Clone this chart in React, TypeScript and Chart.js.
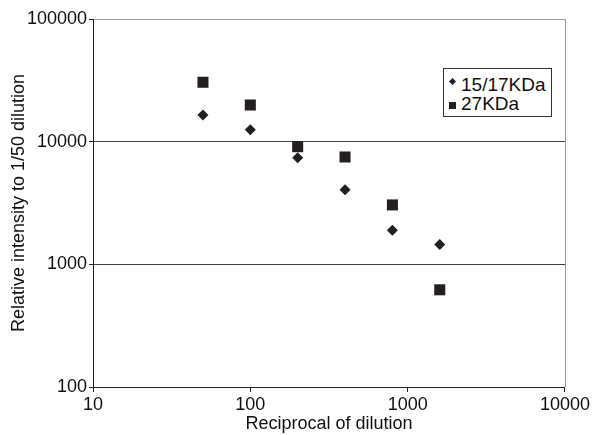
import React, { useEffect, useRef } from "react";
import { Chart, registerables } from "chart.js";

Chart.register(...registerables);

const dilutions = [50, 100, 200, 400, 800, 1600];
const kda15_17 = [16500, 12500, 7400, 4050, 1900, 1450];
const kda27 = [30500, 19900, 9100, 7500, 3050, 620];
const xTicks = [10, 100, 1000, 10000];
const yTicks = [100, 1000, 10000, 100000];
const seriesNames = ["15/17KDa", "27KDa"];

const FONT = '"Liberation Sans", Arial, Helvetica, sans-serif';
const INK = "#231f20";

const borderPlugin = {
  id: "rightBorder",
  afterDraw(chart: any) {
    const { ctx, chartArea } = chart;
    ctx.save();
    ctx.strokeStyle = "#999";
    ctx.lineWidth = 1;
    ctx.beginPath();
    ctx.moveTo(Math.round(chartArea.right) + 0.5, chartArea.top);
    ctx.lineTo(Math.round(chartArea.right) + 0.5, chartArea.bottom);
    ctx.stroke();
    ctx.restore();
  },
};

export default function App() {
  const ref = useRef<HTMLCanvasElement | null>(null);

  useEffect(() => {
    if (!ref.current) return;
    const chart = new Chart(ref.current, {
      type: "scatter",
      data: {
        datasets: [
          {
            label: seriesNames[0],
            data: dilutions.map((x, i) => ({ x, y: kda15_17[i] })),
            pointStyle: "rectRot",
            pointRadius: 5.5,
            backgroundColor: INK,
            borderColor: INK,
            borderWidth: 0,
          },
          {
            label: seriesNames[1],
            data: dilutions.map((x, i) => ({ x, y: kda27[i] })),
            pointStyle: "rect",
            pointRadius: 7.8,
            backgroundColor: INK,
            borderColor: INK,
            borderWidth: 0,
          },
        ],
      },
      options: {
        animation: false,
        responsive: true,
        maintainAspectRatio: false,
        layout: { padding: { top: 19, right: 27, left: 0, bottom: 0 } },
        plugins: {
          legend: { display: false },
          tooltip: { enabled: false },
        },
        scales: {
          x: {
            type: "logarithmic",
            min: 10,
            max: 10000,
            afterBuildTicks: (axis: any) => {
              axis.ticks = xTicks.map((v) => ({ value: v }));
            },
            afterFit: (axis: any) => {
              axis.height = 48;
            },
            ticks: {
              color: "#111",
              font: { family: FONT, size: 18 },
              padding: 2,
              maxRotation: 0,
              autoSkip: false,
              callback: (v: any) => String(v),
            },
            grid: {
              drawOnChartArea: false,
              drawTicks: true,
              tickLength: 5,
              tickColor: "#222",
            },
            border: { display: true, color: "#222", width: 1 },
            title: {
              display: true,
              text: "Reciprocal of dilution",
              color: "#111",
              font: { family: FONT, size: 18 },
              padding: { top: 0, bottom: 0 },
            },
          },
          y: {
            type: "logarithmic",
            min: 100,
            max: 100000,
            afterBuildTicks: (axis: any) => {
              axis.ticks = yTicks.map((v) => ({ value: v }));
            },
            afterFit: (axis: any) => {
              axis.width = 93;
            },
            ticks: {
              color: "#111",
              font: { family: FONT, size: 18 },
              padding: 2,
              autoSkip: false,
              callback: (v: any) => String(v),
            },
            grid: {
              drawOnChartArea: true,
              drawTicks: true,
              tickLength: 4,
              tickColor: "#222",
              color: (ctx: any) => {
                const v = ctx.tick && ctx.tick.value;
                if (v === 100000) return "#999";
                if (v === 100) return "rgba(0,0,0,0)";
                return "#444";
              },
            },
            border: { display: true, color: "#222", width: 1 },
            title: {
              display: true,
              text: "Relative intensity to 1/50 dilution",
              color: "#111",
              font: { family: FONT, size: 18 },
              padding: { top: 8, bottom: 0 },
            },
          },
        },
      },
      plugins: [borderPlugin],
    });
    return () => chart.destroy();
  }, []);

  const rowStyle: React.CSSProperties = {
    position: "absolute",
    left: 17,
    fontFamily: FONT,
    fontSize: 19,
    lineHeight: "22px",
    color: "#111",
    whiteSpace: "nowrap",
  };

  return (
    <div
      style={{
        position: "fixed",
        left: 0,
        top: 0,
        width: 592,
        height: 435,
        background: "#fff",
      }}
    >
      <canvas ref={ref} />
      <div
        style={{
          position: "absolute",
          left: 443,
          top: 68,
          width: 107,
          height: 47,
          border: "1px solid #333",
          background: "#fff",
        }}
      >
        <div
          style={{
            position: "absolute",
            left: 5.5,
            top: 9.5,
            width: 5,
            height: 5,
            background: INK,
            transform: "rotate(45deg)",
          }}
        />
        <div style={{ ...rowStyle, top: 5 }}>{seriesNames[0]}</div>
        <div
          style={{
            position: "absolute",
            left: 5,
            top: 33,
            width: 7,
            height: 7,
            background: INK,
          }}
        />
        <div style={{ ...rowStyle, top: 24 }}>{seriesNames[1]}</div>
      </div>
    </div>
  );
}
